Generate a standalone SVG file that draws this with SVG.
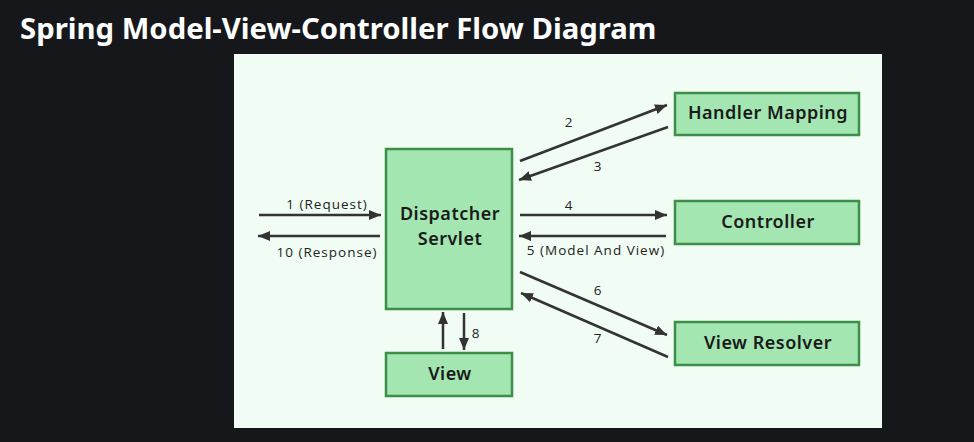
<svg xmlns="http://www.w3.org/2000/svg" width="974" height="442" viewBox="0 0 974 442">
<style>
.box{fill:#a3e6b1;stroke:#3c8f48;stroke-width:2.5}
.nt{font-family:"Noto Sans","Open Sans",sans-serif;font-weight:600;font-size:18px;letter-spacing:0.5px;fill:#1a1a1a;text-anchor:middle}
.lb{font-family:"Open Sans","Noto Sans",sans-serif;font-size:13.5px;letter-spacing:1px;fill:#222;text-anchor:middle}
.ar{stroke:#333;stroke-width:2.5;fill:none;marker-end:url(#ah)}
</style>
<defs>
<marker id="ah" markerUnits="userSpaceOnUse" markerWidth="14" markerHeight="12" refX="12" refY="6" orient="auto">
<path d="M0,1 L12,6 L0,11 Z" fill="#333"/>
</marker>
</defs>
<rect x="0" y="0" width="974" height="442" fill="#15171b"/>
<text x="20" y="39" font-family="Noto Sans, sans-serif" font-weight="700" font-size="29.3" fill="#ffffff">Spring Model-View-Controller Flow Diagram</text>
<rect x="234" y="54" width="648" height="374" fill="#f1fdf4"/>
<g id="dispatcher">
<rect class="box" x="386" y="149" width="126" height="160"/>
<text class="nt" x="450" y="220" font-size="17.5">Dispatcher</text>
<text class="nt" x="450" y="245" font-size="17.5">Servlet</text>
</g>
<g id="handler-mapping">
<rect class="box" x="675" y="93" width="184" height="42"/>
<text class="nt" x="768" y="119">Handler Mapping</text>
</g>
<g id="controller">
<rect class="box" x="675" y="201" width="184" height="43"/>
<text class="nt" x="768" y="228">Controller</text>
</g>
<g id="view-resolver">
<rect class="box" x="675" y="322" width="184" height="43"/>
<text class="nt" x="768" y="349">View Resolver</text>
</g>
<g id="view">
<rect class="box" x="386" y="353" width="126" height="43"/>
<text class="nt" x="450" y="380">View</text>
</g>
<g id="connectors">
<line class="ar" x1="259" y1="215" x2="381" y2="215"/>
<line class="ar" x1="380" y1="236" x2="258" y2="236"/>
<line class="ar" x1="520" y1="161" x2="667" y2="105"/>
<line class="ar" x1="668" y1="127" x2="519" y2="180"/>
<line class="ar" x1="520" y1="215" x2="667" y2="215"/>
<line class="ar" x1="666" y1="236" x2="519" y2="236"/>
<line class="ar" x1="520" y1="272" x2="667" y2="335"/>
<line class="ar" x1="668" y1="357" x2="521" y2="293"/>
<line class="ar" x1="443" y1="349" x2="443" y2="312"/>
<line class="ar" x1="464" y1="313" x2="464" y2="350"/>
<text class="lb" x="327" y="209">1 (Request)</text>
<text class="lb" x="327" y="257">10 (Response)</text>
<text class="lb" x="569" y="127">2</text>
<text class="lb" x="598" y="171">3</text>
<text class="lb" x="569" y="210">4</text>
<text class="lb" x="596" y="255">5 (Model And View)</text>
<text class="lb" x="598" y="295">6</text>
<text class="lb" x="598" y="343">7</text>
<text class="lb" x="476" y="338">8</text>
</g>
</svg>
